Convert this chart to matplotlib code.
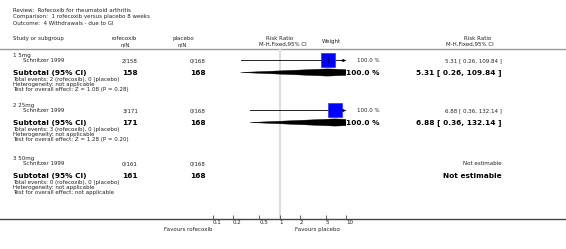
import matplotlib
matplotlib.use("Agg")
import matplotlib.pyplot as plt
from matplotlib.patches import Polygon

# Data
review = "Review:  Rofecoxib for rheumatoid arthritis"
comparison = "Comparison:  1 rofecoxib versus placebo 8 weeks"
outcome = "Outcome:  4 Withdrawals - due to GI"

groups = ["1 5mg", "2 25mg", "3 50mg"]
studies = ["Schnitzer 1999", "Schnitzer 1999", "Schnitzer 1999"]
rofe_events = [2, 3, 0]
rofe_n = [158, 171, 161]
plac_events = [0, 0, 0]
plac_n = [168, 168, 168]
rr = [5.31, 6.88, None]
rr_lo = [0.26, 0.36, None]
rr_hi = [109.84, 132.14, None]
weights = [100.0, 100.0, None]
overall_test = ["Z = 1.08 (P = 0.28)", "Z = 1.28 (P = 0.20)", "not applicable"]

ticks = [0.1, 0.2, 0.5, 1, 2, 5, 10]
tick_labels = ["0.1", "0.2", "0.5", "1", "2", "5", "10"]

# Layout (pixel units, figure is 566 x 249)
W, H = 566, 249
x_lo_px, x_hi_px = 213, 346
y_top, y_axis = 49, 219
group_y = [55, 105, 158]
x_right = 502

small = 4.0
big = 5.3
txt = "#222222"

fig = plt.figure(figsize=(W / 100, H / 100), dpi=100)

bg = fig.add_axes([0, 0, 1, 1])
bg.set_xlim(0, W)
bg.set_ylim(H, 0)
bg.axis("off")

ax = fig.add_axes([x_lo_px / W, (H - y_axis) / H,
                   (x_hi_px - x_lo_px) / W, (y_axis - y_top) / H])
ax.patch.set_visible(False)
ax.set_xscale("log")
ax.set_xlim(0.1, 10)
ax.set_ylim(y_axis, y_top)
for s in ax.spines.values():
    s.set_visible(False)
ax.set_yticks([])
ax.set_xticks(ticks)
ax.set_xticklabels(tick_labels, ha="left", fontsize=small, color=txt)
ax.minorticks_off()
ax.tick_params(axis="x", direction="in", length=3, width=0.6,
               color="#444444", pad=1)
ax.axvline(1, color="#dddddd", lw=1.5, zorder=0)

# Header block
bg.text(13, 10, review, fontsize=small, color=txt, va="center")
bg.text(13, 16.5, comparison, fontsize=small, color=txt, va="center")
bg.text(13, 23, outcome, fontsize=small, color=txt, va="center")

bg.text(13, 38, "Study or subgroup", fontsize=small, color=txt, va="center")
bg.text(137, 38, "rofecoxib", fontsize=small, color=txt, va="center", ha="right")
bg.text(130, 44.5, "n/N", fontsize=small, color=txt, va="center", ha="right")
bg.text(194, 38, "placebo", fontsize=small, color=txt, va="center", ha="right")
bg.text(187, 44.5, "n/N", fontsize=small, color=txt, va="center", ha="right")
bg.text(280, 38, "Risk Ratio", fontsize=small, color=txt, va="center", ha="center")
bg.text(283, 44.5, "M-H,Fixed,95% CI", fontsize=small, color=txt, va="center", ha="center")
bg.text(331, 41, "Weight", fontsize=small, color=txt, va="center", ha="center")
bg.text(478, 38, "Risk Ratio", fontsize=small, color=txt, va="center", ha="center")
bg.text(470, 44.5, "M-H,Fixed,95% CI", fontsize=small, color=txt, va="center", ha="center")
bg.plot([0, W], [y_top, y_top], color="#999999", lw=1)

# Groups
for i, g in enumerate(groups):
    y0 = group_y[i]
    y_st = y0 + 5.5
    y_sub = y0 + 17.5
    bg.text(13, y0, g, fontsize=small, color=txt, va="center")
    bg.text(23, y_st, studies[i], fontsize=small, color=txt, va="center")
    bg.text(138, y_st, f"{rofe_events[i]}/{rofe_n[i]}", fontsize=small,
            color=txt, va="center", ha="right")
    bg.text(206, y_st, f"{plac_events[i]}/{plac_n[i]}", fontsize=small,
            color=txt, va="center", ha="right")
    bg.text(13, y_sub, "Subtotal (95% CI)", fontsize=big, fontweight="bold",
            color="black", va="center")
    bg.text(138, y_sub, str(rofe_n[i]), fontsize=big, fontweight="bold",
            color="black", va="center", ha="right")
    bg.text(206, y_sub, str(plac_n[i]), fontsize=big, fontweight="bold",
            color="black", va="center", ha="right")
    bg.text(13, y0 + 24, f"Total events: {rofe_events[i]} (rofecoxib), "
            f"{plac_events[i]} (placebo)", fontsize=small, color=txt, va="center")
    bg.text(13, y0 + 29, "Heterogeneity: not applicable", fontsize=small,
            color=txt, va="center")
    bg.text(13, y0 + 34, f"Test for overall effect: {overall_test[i]}",
            fontsize=small, color=txt, va="center")

    if rr[i] is None:
        bg.text(x_right, y_st, "Not estimable", fontsize=small, color=txt,
                va="center", ha="right")
        bg.text(x_right, y_sub, "Not estimable", fontsize=big, fontweight="bold",
                color="black", va="center", ha="right")
        continue

    # study row: CI line, arrow, box
    hi_draw = min(rr_hi[i], 10)
    ax.plot([rr_lo[i], hi_draw], [y_st, y_st], color="black", lw=0.6)
    if rr_hi[i] > 10:
        ax.annotate("", xy=(10, y_st), xytext=(8.5, y_st),
                    arrowprops=dict(arrowstyle="-|>", color="black", lw=0.6,
                                    mutation_scale=4, shrinkA=0, shrinkB=0))
    ax.plot(rr[i], y_st, marker="s", markersize=9.4, color="#0000ff",
            markeredgecolor="#3030ff", markeredgewidth=0.5)
    ax.plot(rr[i], y_st, marker="|", markersize=3, color="black",
            markeredgewidth=0.6)

    # subtotal diamond (clipped at the axis edge)
    dh = 3.6
    ax.add_patch(Polygon([(rr_lo[i], y_sub), (rr[i], y_sub - dh),
                          (rr_hi[i], y_sub), (rr[i], y_sub + dh)],
                         closed=True, facecolor="black", edgecolor="black",
                         lw=0.3))

    bg.text(380, y_st, f"{weights[i]:.1f} %", fontsize=small, color=txt,
            va="center", ha="right")
    bg.text(380, y_sub, f"{weights[i]:.1f} %", fontsize=big, fontweight="bold",
            color="black", va="center", ha="right")
    bg.text(x_right, y_st, f"{rr[i]:.2f} [ {rr_lo[i]:.2f}, {rr_hi[i]:.2f} ]",
            fontsize=small, color=txt, va="center", ha="right")
    bg.text(x_right, y_sub, f"{rr[i]:.2f} [ {rr_lo[i]:.2f}, {rr_hi[i]:.2f} ]",
            fontsize=big, fontweight="bold", color="black", va="center",
            ha="right")

# bottom axis line and favours labels
bg.plot([0, W], [y_axis, y_axis], color="#444444", lw=1)
bg.text(213, 229, "Favours rofecoxib", fontsize=small, color=txt,
        va="center", ha="right")
bg.text(295, 229, "Favours placebo", fontsize=small, color=txt,
        va="center", ha="left")

fig.savefig("out.png", dpi=100)
